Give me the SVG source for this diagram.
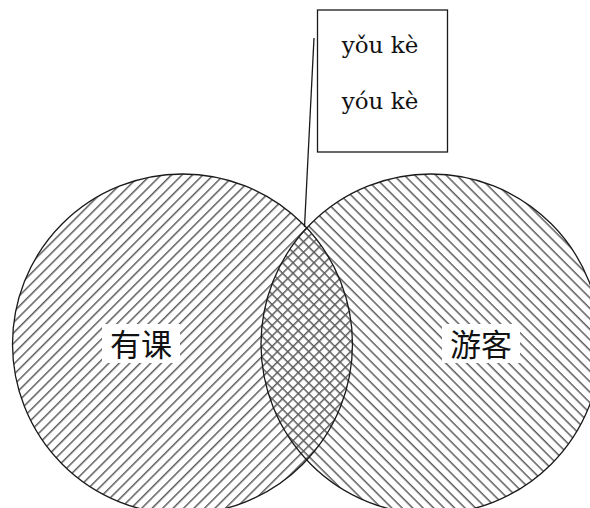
<svg xmlns="http://www.w3.org/2000/svg" width="590" height="508" viewBox="0 0 590 508">
<style>
.hatch{fill:#5e5e5e}
.ring{fill:none;stroke:#1a1a1a;stroke-width:1.3}
.lbl{font-family:"Noto Sans CJK SC","Noto Sans",sans-serif;font-size:31px;fill:#111;text-anchor:middle}
.py{font-family:"DejaVu Serif","Liberation Serif",serif;font-size:23px;fill:#111;text-anchor:middle}
.bg{fill:#fff}
</style>
<defs>
<pattern id="hL" patternUnits="userSpaceOnUse" width="7.4" height="7.4" patternTransform="rotate(-45)">
<rect class="hatch" x="0" y="0" width="7.4" height="1.5"/>
</pattern>
<pattern id="hR" patternUnits="userSpaceOnUse" width="7.4" height="7.4" patternTransform="rotate(45)">
<rect class="hatch" x="0" y="0" width="7.4" height="1.5"/>
</pattern>
</defs>
<rect width="590" height="508" fill="#fff"/>
<g id="set-left">
<circle cx="182.5" cy="344" r="170" fill="url(#hL)"/>
</g>
<g id="set-right">
<circle cx="431" cy="344" r="170" fill="url(#hR)"/>
</g>
<g id="label-left">
<rect class="bg" x="102" y="324" width="78" height="39"/>
<text class="lbl" x="141" y="356">有课</text>
</g>
<g id="label-right">
<rect class="bg" x="442" y="324" width="78" height="39"/>
<text class="lbl" x="481" y="356">游客</text>
</g>
<g id="outlines">
<circle class="ring" cx="182.5" cy="344" r="170"/>
<circle class="ring" cx="431" cy="344" r="170"/>
</g>
<g id="connectors">
<line x1="314" y1="38" x2="304.5" y2="227" stroke="#1a1a1a" stroke-width="1.3"/>
</g>
<g id="callout">
<rect x="317.5" y="10" width="130" height="142" fill="#fff" stroke="#1a1a1a" stroke-width="1.3"/>
<text class="py" x="380" y="53">yǒu kè</text>
<text class="py" x="380" y="109">yóu kè</text>
</g>
</svg>
